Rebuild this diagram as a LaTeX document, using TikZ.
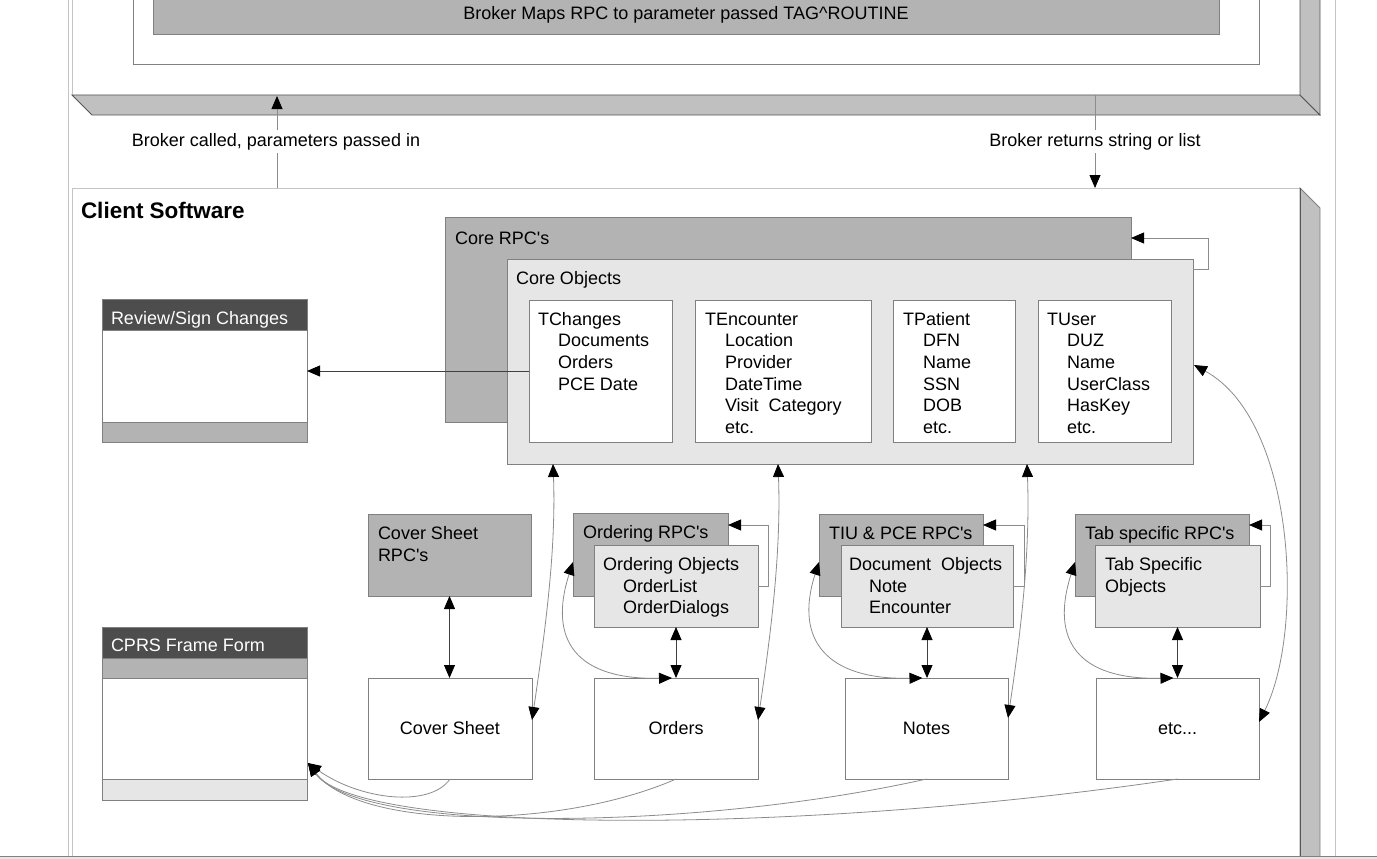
\documentclass[tikz,border=0pt]{standalone}
\usepackage{fontspec}
\setmainfont{Liberation Sans}
\usetikzlibrary{arrows.meta,calc}

\definecolor{rpcgray}{HTML}{B3B3B3}
\definecolor{objgray}{HTML}{E6E6E6}
\definecolor{facegray}{HTML}{C0C0C0}
\definecolor{titlebar}{HTML}{4D4D4D}
\definecolor{edgegray}{HTML}{808080}
\definecolor{darkedge}{HTML}{555555}
\definecolor{framegray}{HTML}{C4C4C4}
\definecolor{curvegray}{HTML}{8C8C8C}

\newcommand{\capstrut}{\rule{0pt}{14pt}}
\newcommand{\apos}{\textquotesingle}

\begin{document}
\begin{tikzpicture}[x=1pt,y=-1pt,
  every node/.style={inner sep=0pt, outer sep=0pt},
  txt/.style={font=\fontsize{18}{21.7}\selectfont, align=left, anchor=north west},
  lbl/.style={font=\fontsize{18}{21.7}\selectfont, fill=white, inner sep=3pt},
  box/.style={draw=edgegray, line width=0.8pt, anchor=north west},
  rpcbox/.style={box, fill=rpcgray},
  objbox/.style={box, fill=objgray},
  plainbox/.style={box, fill=white},
  onehead/.style={-{Triangle[length=13pt,width=11pt,color=black]}},
  twohead/.style={{Triangle[length=13pt,width=11pt,color=black]}-{Triangle[length=13pt,width=11pt,color=black]}},
  link/.style={draw=black!75, line width=0.8pt},
  soft/.style={draw=curvegray, line width=0.8pt},
]
\useasboundingbox (0,0) rectangle (1377,859);
\clip (0,0) rectangle (1377,859);

% page frame lines
\draw[framegray, line width=0.8pt] (68,0) -- (68,856);
\draw[framegray, line width=0.8pt] (1335,0) -- (1335,856);

% ---- server block (3D box) ----
\node[draw=framegray, fill=white, line width=0.8pt, anchor=south west,
      minimum width=1228pt, minimum height=115pt] (server) at (72,95) {};
\filldraw[fill=facegray, draw=darkedge, line width=0.8pt]
  (server.south west) -- (server.south east) -- ++(20,20) -- ++(-1228,0) -- cycle;
\filldraw[fill=facegray, draw=darkedge, line width=0.8pt]
  (server.north east) -- (server.south east) -- ++(20,20) -- (1320,-20);
\node[plainbox, anchor=south west, minimum width=1126pt, minimum height=90pt] (broker) at (133,64) {};
\node[rpcbox, anchor=south west, minimum width=1066pt, minimum height=60pt] (mapbar) at (153,34) {};
\node[font=\fontsize{18}{21.7}\selectfont, anchor=base] (maptext) at (686,19.5)
  {Broker Maps RPC to parameter passed TAG\textasciicircum ROUTINE};

% ---- client block (3D box) ----
\node[draw=framegray, fill=white, line width=0.8pt, anchor=north west,
      minimum width=1228pt, minimum height=700pt] (client) at (72,188) {};
\filldraw[fill=facegray, draw=edgegray, line width=0.8pt]
  (client.north east) -- ++(20,20) -- (1320,880) -- (1300,880) -- cycle;
\draw[darkedge, line width=0.8pt] (client.north east) -- (1300,880);
\node[font=\fontsize{22.5}{26}\selectfont\bfseries, anchor=base west] (clienttitle) at (81,218) {Client Software};

% broker calls
\coordinate (callfoot) at ($(client.north west)+(205,0)$);
\coordinate (callhead) at ($(server.south west)+(205,1)$);
\coordinate (retfoot) at ($(server.south west)+(1023,0)$);
\coordinate (rethead) at ($(client.north west)+(1023,0)$);
\draw[soft, onehead] (callfoot) -- (callhead);
\draw[soft, onehead] (retfoot) -- (rethead);
\node[lbl] (calledlbl) at (276,141.5) {Broker called, parameters passed in};
\node[lbl] (returnlbl) at (1095,141.5) {Broker returns string or list};

% ---- core RPCs and objects ----
\node[rpcbox, minimum width=686pt, minimum height=205pt] (corerpc) at (445,217) {};
\node[txt] (corerpct) at ($(corerpc.north west)+(10,13)$) {\capstrut Core RPC\apos s};
\node[objbox, minimum width=686pt, minimum height=205pt] (coreobj) at (507,259) {};
\node[txt] (coreobjt) at ($(coreobj.north west)+(9,11)$) {\capstrut Core Objects};

\node[plainbox, minimum width=143pt, minimum height=142pt] (tchanges) at (529,300) {};
\node[txt] (tchangest) at ($(tchanges.north west)+(9,11)$)
  {\capstrut TChanges\\\hspace*{20pt}Documents\\\hspace*{20pt}Orders\\\hspace*{20pt}PCE Date};
\node[plainbox, minimum width=176pt, minimum height=142pt] (tencounter) at (695,300) {};
\node[txt] (tencountert) at ($(tencounter.north west)+(10,11)$)
  {\capstrut TEncounter\\\hspace*{20pt}Location\\\hspace*{20pt}Provider\\\hspace*{20pt}DateTime\\\hspace*{20pt}Visit\ \ Category\\\hspace*{20pt}etc.};
\node[plainbox, minimum width=122pt, minimum height=142pt] (tpatient) at (893,300) {};
\node[txt] (tpatientt) at ($(tpatient.north west)+(10,11)$)
  {\capstrut TPatient\\\hspace*{20pt}DFN\\\hspace*{20pt}Name\\\hspace*{20pt}SSN\\\hspace*{20pt}DOB\\\hspace*{20pt}etc.};
\node[plainbox, minimum width=133pt, minimum height=142pt] (tuser) at (1038,300) {};
\node[txt] (tusert) at ($(tuser.north west)+(9,11)$)
  {\capstrut TUser\\\hspace*{20pt}DUZ\\\hspace*{20pt}Name\\\hspace*{20pt}UserClass\\\hspace*{20pt}HasKey\\\hspace*{20pt}etc.};

% core self loop
\draw[soft, onehead] ($(coreobj.north east)+(0,10)$) -- ++(15,0) |- ($(corerpc.north east)+(0,21)$);

% ---- forms ----
\node[plainbox, minimum width=205pt, minimum height=143pt] (review) at (102,299) {};
\filldraw[fill=titlebar, draw=edgegray, line width=0.8pt] (review.north west) rectangle ($(review.north east)+(0,31)$);
\filldraw[fill=rpcgray, draw=edgegray, line width=0.8pt] ($(review.south west)+(0,-20)$) rectangle (review.south east);
\node[txt, text=white] (reviewt) at ($(review.north west)+(9,11)$) {\capstrut Review/Sign Changes};

\node[plainbox, minimum width=205pt, minimum height=173pt] (cprs) at (102,627) {};
\filldraw[fill=titlebar, draw=edgegray, line width=0.8pt] (cprs.north west) rectangle ($(cprs.north east)+(0,31)$);
\filldraw[fill=rpcgray, draw=edgegray, line width=0.8pt] ($(cprs.north west)+(0,31)$) rectangle ($(cprs.north east)+(0,51)$);
\filldraw[fill=objgray, draw=edgegray, line width=0.8pt] ($(cprs.south west)+(0,-21)$) rectangle (cprs.south east);
\node[txt, text=white] (cprst) at ($(cprs.north west)+(9,10.5)$) {\capstrut CPRS Frame Form};
\coordinate (cprsin) at ($(cprs.south east)+(1,-37)$);

% ---- tab RPCs and objects ----
\node[rpcbox, minimum width=163pt, minimum height=82pt] (covrpc) at (368,514) {};
\node[txt] (covrpct) at ($(covrpc.north west)+(10,11.5)$) {\capstrut Cover Sheet\\RPC\apos s};

\node[rpcbox, minimum width=155pt, minimum height=83pt] (ordrpc) at (573,513) {};
\node[txt] (ordrpct) at ($(ordrpc.north west)+(10,11.5)$) {\capstrut Ordering RPC\apos s};
\node[objbox, minimum width=164pt, minimum height=82pt] (ordobj) at (594,545) {};
\node[txt] (ordobjt) at ($(ordobj.north west)+(9,11.5)$)
  {\capstrut Ordering Objects\\\hspace*{20pt}OrderList\\\hspace*{20pt}OrderDialogs};

\node[rpcbox, minimum width=164pt, minimum height=82pt] (tiurpc) at (819,514) {};
\node[txt] (tiurpct) at ($(tiurpc.north west)+(10,11)$) {\capstrut TIU \& PCE RPC\apos s};
\node[objbox, minimum width=172pt, minimum height=82pt] (docobj) at (841,545) {};
\node[txt] (docobjt) at ($(docobj.north west)+(8,11.5)$)
  {\capstrut Document\ \ Objects\\\hspace*{20pt}Note\\\hspace*{20pt}Encounter};

\node[rpcbox, minimum width=174pt, minimum height=82pt] (tabrpc) at (1075,514) {};
\node[txt] (tabrpct) at ($(tabrpc.north west)+(10,11)$) {\capstrut Tab specific RPC\apos s};
\node[objbox, minimum width=165pt, minimum height=82pt] (tabobj) at (1095,545) {};
\node[txt] (tabobjt) at ($(tabobj.north west)+(10,11.5)$) {\capstrut Tab Specific\\Objects};

% small self loops
\draw[soft, onehead] ($(ordobj.north east)+(0,41)$) -- ++(10,0) |- ($(ordrpc.north east)+(0,12)$);
\draw[soft, onehead] ($(docobj.north east)+(0,41)$) -- ++(11,0) |- ($(tiurpc.north east)+(0,11)$);
\draw[soft, onehead] ($(tabobj.north east)+(0,41)$) -- ++(10,0) |- ($(tabrpc.north east)+(0,11)$);

% ---- tabs ----
\node[plainbox, minimum width=164pt, minimum height=101pt] (cover) at (368,678) {};
\node[font=\fontsize{18}{21.7}\selectfont] (covert) at (cover.center) {Cover Sheet};
\node[plainbox, minimum width=164pt, minimum height=101pt] (orders) at (594,678) {};
\node[font=\fontsize{18}{21.7}\selectfont] (orderst) at (orders.center) {Orders};
\node[plainbox, minimum width=163pt, minimum height=101pt] (notes) at (845,678) {};
\node[font=\fontsize{18}{21.7}\selectfont] (notest) at (notes.center) {Notes};
\node[plainbox, minimum width=163pt, minimum height=101pt] (etc) at (1096,678) {};
\node[font=\fontsize{18}{21.7}\selectfont] (etct) at (etc.center) {etc...};

% ---- connectors ----
\draw[link, onehead] (tchanges.west) -- (review.east |- tchanges.west);

\draw[link, twohead] (covrpc.south) -- (covrpc.south |- cover.north);
\draw[link, twohead] (ordobj.south) -- (orders.north);
\draw[link, twohead] (docobj.south) -- (docobj.south |- notes.north);
\draw[link, twohead] (tabobj.south) -- (tabobj.south |- etc.north);

% core objects to tabs
\draw[soft, twohead] ($(coreobj.south west)+(46,0)$) .. controls +(3,80) and +(15,-100) .. ($(cover.north east)+(0,42)$);
\draw[soft, twohead] ($(coreobj.south west)+(271,0)$) .. controls +(3,80) and +(15,-100) .. ($(orders.north east)+(0,42)$);
\draw[soft, twohead] ($(coreobj.south west)+(520,0)$) .. controls +(3,80) and +(15,-100) .. ($(notes.north east)+(0,40)$);
\draw[soft, twohead] ($(coreobj.north east)+(1,106)$) .. controls +(101,55) and +(46,-92) .. ($(etc.north east)+(0,44)$);

% tab RPCs to tabs
\draw[soft, twohead] ($(ordrpc.south west)+(0,-34)$) .. controls +(-25,78) and +(-96,2) .. ($(orders.north)+(-4,0)$);
\draw[soft, twohead] ($(tiurpc.south west)+(0,-34)$) .. controls +(-25,78) and +(-96,2) .. ($(notes.north)+(-4,0)$);
\draw[soft, twohead] ($(tabrpc.south west)+(0,-34)$) .. controls +(-25,78) and +(-96,2) .. ($(etc.north)+(-4,0)$);

% tabs to frame form
\draw[soft, onehead] (cover.south) .. controls +(-20,29) and +(52,37) .. (cprsin);
\draw[soft, onehead] (orders.south) .. controls +(-116,51) and +(52,67) .. (cprsin);
\draw[soft, onehead] (notes.south) .. controls +(-227,51) and +(52,72) .. (cprsin);
\draw[soft, onehead] (etc.south) .. controls +(-378,56) and +(52,72) .. (cprsin);

% bottom edge
\fill[objgray] (0,856) rectangle (1377,859);
\draw[edgegray, line width=0.8pt] (0,856) -- (1377,856);
\end{tikzpicture}
\end{document}
